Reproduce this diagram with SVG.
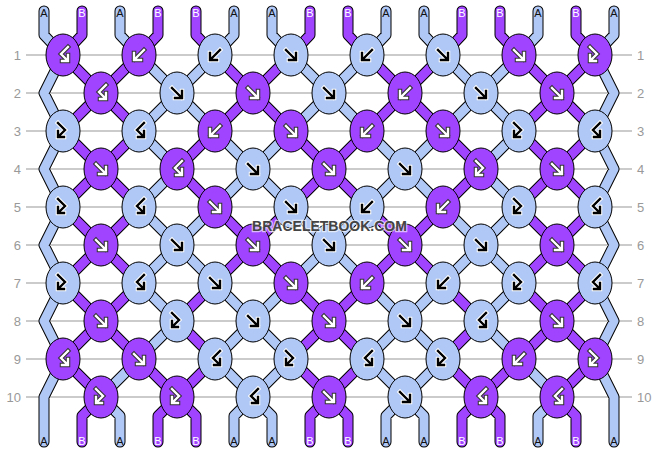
<svg xmlns="http://www.w3.org/2000/svg" width="658" height="452" viewBox="0 0 658 452">
<style>
.ln{stroke:#bbb;stroke-width:1.5}
.rl{font-family:"Liberation Sans",Arial,sans-serif;font-size:13px;fill:#999}
.rr{text-anchor:end}
.ol{fill:none;stroke:#000;stroke-width:11;stroke-linecap:round;stroke-linejoin:round}
.ca{fill:none;stroke:#b0c8f5;stroke-width:9;stroke-linecap:round;stroke-linejoin:round}
.cb{fill:none;stroke:#a044ff;stroke-width:9;stroke-linecap:round;stroke-linejoin:round}
.P{fill:#a044ff;stroke:#000;stroke-width:1}
.L{fill:#b0c8f5;stroke:#000;stroke-width:1}
.tl{font-family:"Liberation Sans",Arial,sans-serif;font-size:11px;text-anchor:middle}
.ta{fill:#111}
.tb{fill:#fff}
.ow{fill:none;stroke:#fff;stroke-width:4.5;stroke-linecap:square}
.od{fill:none;stroke:#333;stroke-width:4.5;stroke-linecap:square}
.mk{fill:none;stroke:#000;stroke-width:2.4;stroke-linecap:square}
.mw{fill:none;stroke:#fff;stroke-width:2.4;stroke-linecap:square}
.wm{font-family:"Liberation Sans",Arial,sans-serif;font-size:14px;font-weight:bold;text-anchor:middle;fill:#444;stroke:#fff;stroke-opacity:0.65;stroke-width:2.5;paint-order:stroke}
</style>
<defs>
<path id="gF" d="M-5,-5L4.5,4.5M-2,5H5V-2"/>
<path id="gB" d="M5,-5L-4.5,4.5M2,5H-5V-2"/>
<path id="gFB" d="M-5,-8L2,-1L-4,5M-5,0V6H1"/>
<path id="gBF" d="M5,-8L-2,-1L4,5M5,0V6H-1"/>
<g id="Fk"><use href="#gF" class="ow"/><use href="#gF" class="mk"/></g>
<g id="Bk"><use href="#gB" class="ow"/><use href="#gB" class="mk"/></g>
<g id="FBk"><use href="#gFB" class="ow"/><use href="#gFB" class="mk"/></g>
<g id="BFk"><use href="#gBF" class="ow"/><use href="#gBF" class="mk"/></g>
<g id="Fw"><use href="#gF" class="od"/><use href="#gF" class="mw"/></g>
<g id="Bw"><use href="#gB" class="od"/><use href="#gB" class="mw"/></g>
<g id="FBw"><use href="#gFB" class="od"/><use href="#gFB" class="mw"/></g>
<g id="BFw"><use href="#gBF" class="od"/><use href="#gBF" class="mw"/></g>
<path id="pA" d="M44,11V35L63,55 M120,11V35L139,55 M234,11V35L215,55 M272,11V35L291,55 M386,11V35L367,55 M424,11V35L443,55 M538,11V35L519,55 M614,11V35L595,55
M63,55L44,93L63,131 M63,131L44,169L63,207 M63,207L44,245L63,283 M63,283L44,321L63,359 M63,359L44,397V442
M595,55L614,93L595,131 M595,131L614,169L595,207 M595,207L614,245L595,283 M595,283L614,321L595,359 M595,359L614,397V442
M139,55L177,93 M215,55L177,93 M291,55L329,93 M367,55L329,93 M443,55L481,93 M519,55L481,93
M177,93L139,131 M177,93L215,131 M329,93L291,131 M329,93L367,131 M481,93L443,131 M481,93L519,131
M139,131L177,169 M215,131L253,169 M291,131L253,169 M367,131L405,169 M443,131L405,169 M519,131L481,169
M177,169L139,207 M253,169L215,207 M253,169L291,207 M405,169L367,207 M405,169L443,207 M481,169L519,207
M139,207L177,245 M215,207L177,245 M291,207L329,245 M367,207L329,245 M443,207L481,245 M519,207L481,245
M177,245L139,283 M177,245L215,283 M329,245L291,283 M329,245L367,283 M481,245L443,283 M481,245L519,283
M139,283L177,321 M215,283L253,321 M291,283L253,321 M367,283L405,321 M443,283L405,321 M519,283L481,321
M177,321L139,359 M253,321L215,359 M253,321L291,359 M405,321L367,359 M405,321L443,359 M481,321L519,359
M139,359L101,397 M215,359L253,397 M291,359L253,397 M367,359L405,397 M443,359L405,397 M519,359L557,397
M101,397L120,416V442 M253,397L234,416V442 M253,397L272,416V442 M405,397L386,416V442 M405,397L424,416V442 M557,397L538,416V442"/>
<path id="pB" d="M82,11V35L63,55 M158,11V35L139,55 M196,11V35L215,55 M310,11V35L291,55 M348,11V35L367,55 M462,11V35L443,55 M500,11V35L519,55 M576,11V35L595,55
M63,55L101,93 M139,55L101,93 M215,55L253,93 M291,55L253,93 M367,55L405,93 M443,55L405,93 M519,55L557,93 M595,55L557,93
M101,93L63,131 M101,93L139,131 M253,93L215,131 M253,93L291,131 M405,93L367,131 M405,93L443,131 M557,93L519,131 M557,93L595,131
M63,131L101,169 M139,131L101,169 M215,131L177,169 M291,131L329,169 M367,131L329,169 M443,131L481,169 M519,131L557,169 M595,131L557,169
M101,169L63,207 M101,169L139,207 M177,169L215,207 M329,169L291,207 M329,169L367,207 M481,169L443,207 M557,169L519,207 M557,169L595,207
M63,207L101,245 M139,207L101,245 M215,207L253,245 M291,207L253,245 M367,207L405,245 M443,207L405,245 M519,207L557,245 M595,207L557,245
M101,245L63,283 M101,245L139,283 M253,245L215,283 M253,245L291,283 M405,245L367,283 M405,245L443,283 M557,245L519,283 M557,245L595,283
M63,283L101,321 M139,283L101,321 M215,283L177,321 M291,283L329,321 M367,283L329,321 M443,283L481,321 M519,283L557,321 M595,283L557,321
M101,321L63,359 M101,321L139,359 M177,321L215,359 M329,321L291,359 M329,321L367,359 M481,321L443,359 M557,321L519,359 M557,321L595,359
M63,359L101,397 M139,359L177,397 M215,359L177,397 M291,359L329,397 M367,359L329,397 M443,359L481,397 M519,359L481,397 M595,359L557,397
M101,397L82,416V442 M177,397L158,416V442 M177,397L196,416V442 M329,397L310,416V442 M329,397L348,416V442 M481,397L462,416V442 M481,397L500,416V442 M557,397L576,416V442"/>
</defs>
<rect width="658" height="452" fill="#fff"/>
<g id="rows">
<path class="ln" d="M26,55H632M26,93H632M26,131H632M26,169H632M26,207H632M26,245H632M26,283H632M26,321H632M26,359H632M26,397H632"/>
<text class="rl rr" x="21" y="59.5">1</text><text class="rl rr" x="21" y="97.5">2</text><text class="rl rr" x="21" y="135.5">3</text><text class="rl rr" x="21" y="173.5">4</text><text class="rl rr" x="21" y="211.5">5</text><text class="rl rr" x="21" y="249.5">6</text><text class="rl rr" x="21" y="287.5">7</text><text class="rl rr" x="21" y="325.5">8</text><text class="rl rr" x="21" y="363.5">9</text><text class="rl rr" x="21" y="401.5">10</text>
<text class="rl" x="637" y="59.5">1</text><text class="rl" x="637" y="97.5">2</text><text class="rl" x="637" y="135.5">3</text><text class="rl" x="637" y="173.5">4</text><text class="rl" x="637" y="211.5">5</text><text class="rl" x="637" y="249.5">6</text><text class="rl" x="637" y="287.5">7</text><text class="rl" x="637" y="325.5">8</text><text class="rl" x="637" y="363.5">9</text><text class="rl" x="637" y="401.5">10</text>
</g>
<g id="connectors">
<use href="#pA" class="ol"/><use href="#pB" class="ol"/>
<use href="#pA" class="ca"/><use href="#pB" class="cb"/>
</g>
<g id="string-labels">
<text class="tl ta" x="44" y="17">A</text><text class="tl tb" x="82" y="17">B</text><text class="tl ta" x="120" y="17">A</text><text class="tl tb" x="158" y="17">B</text><text class="tl tb" x="196" y="17">B</text><text class="tl ta" x="234" y="17">A</text><text class="tl ta" x="272" y="17">A</text><text class="tl tb" x="310" y="17">B</text><text class="tl tb" x="348" y="17">B</text><text class="tl ta" x="386" y="17">A</text><text class="tl ta" x="424" y="17">A</text><text class="tl tb" x="462" y="17">B</text><text class="tl tb" x="500" y="17">B</text><text class="tl ta" x="538" y="17">A</text><text class="tl tb" x="576" y="17">B</text><text class="tl ta" x="614" y="17">A</text>
<text class="tl ta" x="44" y="445">A</text><text class="tl tb" x="82" y="445">B</text><text class="tl ta" x="120" y="445">A</text><text class="tl tb" x="158" y="445">B</text><text class="tl tb" x="196" y="445">B</text><text class="tl ta" x="234" y="445">A</text><text class="tl ta" x="272" y="445">A</text><text class="tl tb" x="310" y="445">B</text><text class="tl tb" x="348" y="445">B</text><text class="tl ta" x="386" y="445">A</text><text class="tl ta" x="424" y="445">A</text><text class="tl tb" x="462" y="445">B</text><text class="tl tb" x="500" y="445">B</text><text class="tl ta" x="538" y="445">A</text><text class="tl tb" x="576" y="445">B</text><text class="tl ta" x="614" y="445">A</text>
</g>
<g id="knots">
<g id="k1_1" transform="translate(63 55)"><ellipse class="P" rx="17" ry="21"/><use href="#BFw"/></g>
<g id="k1_2" transform="translate(139 55)"><ellipse class="P" rx="17" ry="21"/><use href="#Bw"/></g>
<g id="k1_3" transform="translate(215 55)"><ellipse class="L" rx="17" ry="21"/><use href="#Bk"/></g>
<g id="k1_4" transform="translate(291 55)"><ellipse class="L" rx="17" ry="21"/><use href="#Fk"/></g>
<g id="k1_5" transform="translate(367 55)"><ellipse class="L" rx="17" ry="21"/><use href="#Bk"/></g>
<g id="k1_6" transform="translate(443 55)"><ellipse class="L" rx="17" ry="21"/><use href="#Fk"/></g>
<g id="k1_7" transform="translate(519 55)"><ellipse class="P" rx="17" ry="21"/><use href="#Fw"/></g>
<g id="k1_8" transform="translate(595 55)"><ellipse class="P" rx="17" ry="21"/><use href="#FBw"/></g>
<g id="k2_1" transform="translate(101 93)"><ellipse class="P" rx="17" ry="21"/><use href="#BFw"/></g>
<g id="k2_2" transform="translate(177 93)"><ellipse class="L" rx="17" ry="21"/><use href="#Fk"/></g>
<g id="k2_3" transform="translate(253 93)"><ellipse class="P" rx="17" ry="21"/><use href="#Fw"/></g>
<g id="k2_4" transform="translate(329 93)"><ellipse class="L" rx="17" ry="21"/><use href="#Fk"/></g>
<g id="k2_5" transform="translate(405 93)"><ellipse class="P" rx="17" ry="21"/><use href="#Bw"/></g>
<g id="k2_6" transform="translate(481 93)"><ellipse class="L" rx="17" ry="21"/><use href="#Fk"/></g>
<g id="k2_7" transform="translate(557 93)"><ellipse class="P" rx="17" ry="21"/><use href="#Fw"/></g>
<g id="k3_1" transform="translate(63 131)"><ellipse class="L" rx="17" ry="21"/><use href="#FBk"/></g>
<g id="k3_2" transform="translate(139 131)"><ellipse class="L" rx="17" ry="21"/><use href="#BFk"/></g>
<g id="k3_3" transform="translate(215 131)"><ellipse class="P" rx="17" ry="21"/><use href="#Bw"/></g>
<g id="k3_4" transform="translate(291 131)"><ellipse class="P" rx="17" ry="21"/><use href="#Fw"/></g>
<g id="k3_5" transform="translate(367 131)"><ellipse class="P" rx="17" ry="21"/><use href="#Bw"/></g>
<g id="k3_6" transform="translate(443 131)"><ellipse class="P" rx="17" ry="21"/><use href="#Fw"/></g>
<g id="k3_7" transform="translate(519 131)"><ellipse class="L" rx="17" ry="21"/><use href="#FBk"/></g>
<g id="k3_8" transform="translate(595 131)"><ellipse class="L" rx="17" ry="21"/><use href="#BFk"/></g>
<g id="k4_1" transform="translate(101 169)"><ellipse class="P" rx="17" ry="21"/><use href="#Fw"/></g>
<g id="k4_2" transform="translate(177 169)"><ellipse class="P" rx="17" ry="21"/><use href="#BFw"/></g>
<g id="k4_3" transform="translate(253 169)"><ellipse class="L" rx="17" ry="21"/><use href="#Fk"/></g>
<g id="k4_4" transform="translate(329 169)"><ellipse class="P" rx="17" ry="21"/><use href="#Fw"/></g>
<g id="k4_5" transform="translate(405 169)"><ellipse class="L" rx="17" ry="21"/><use href="#Fk"/></g>
<g id="k4_6" transform="translate(481 169)"><ellipse class="P" rx="17" ry="21"/><use href="#FBw"/></g>
<g id="k4_7" transform="translate(557 169)"><ellipse class="P" rx="17" ry="21"/><use href="#Fw"/></g>
<g id="k5_1" transform="translate(63 207)"><ellipse class="L" rx="17" ry="21"/><use href="#FBk"/></g>
<g id="k5_2" transform="translate(139 207)"><ellipse class="L" rx="17" ry="21"/><use href="#BFk"/></g>
<g id="k5_3" transform="translate(215 207)"><ellipse class="P" rx="17" ry="21"/><use href="#Fw"/></g>
<g id="k5_4" transform="translate(291 207)"><ellipse class="L" rx="17" ry="21"/><use href="#Fk"/></g>
<g id="k5_5" transform="translate(367 207)"><ellipse class="L" rx="17" ry="21"/><use href="#Bk"/></g>
<g id="k5_6" transform="translate(443 207)"><ellipse class="P" rx="17" ry="21"/><use href="#Bw"/></g>
<g id="k5_7" transform="translate(519 207)"><ellipse class="L" rx="17" ry="21"/><use href="#FBk"/></g>
<g id="k5_8" transform="translate(595 207)"><ellipse class="L" rx="17" ry="21"/><use href="#BFk"/></g>
<g id="k6_1" transform="translate(101 245)"><ellipse class="P" rx="17" ry="21"/><use href="#Fw"/></g>
<g id="k6_2" transform="translate(177 245)"><ellipse class="L" rx="17" ry="21"/><use href="#Fk"/></g>
<g id="k6_3" transform="translate(253 245)"><ellipse class="P" rx="17" ry="21"/><use href="#Fw"/></g>
<g id="k6_4" transform="translate(329 245)"><ellipse class="L" rx="17" ry="21"/><use href="#Fk"/></g>
<g id="k6_5" transform="translate(405 245)"><ellipse class="P" rx="17" ry="21"/><use href="#Fw"/></g>
<g id="k6_6" transform="translate(481 245)"><ellipse class="L" rx="17" ry="21"/><use href="#Fk"/></g>
<g id="k6_7" transform="translate(557 245)"><ellipse class="P" rx="17" ry="21"/><use href="#Fw"/></g>
<g id="k7_1" transform="translate(63 283)"><ellipse class="L" rx="17" ry="21"/><use href="#FBk"/></g>
<g id="k7_2" transform="translate(139 283)"><ellipse class="L" rx="17" ry="21"/><use href="#BFk"/></g>
<g id="k7_3" transform="translate(215 283)"><ellipse class="L" rx="17" ry="21"/><use href="#Fk"/></g>
<g id="k7_4" transform="translate(291 283)"><ellipse class="P" rx="17" ry="21"/><use href="#Fw"/></g>
<g id="k7_5" transform="translate(367 283)"><ellipse class="P" rx="17" ry="21"/><use href="#Bw"/></g>
<g id="k7_6" transform="translate(443 283)"><ellipse class="L" rx="17" ry="21"/><use href="#Bk"/></g>
<g id="k7_7" transform="translate(519 283)"><ellipse class="L" rx="17" ry="21"/><use href="#FBk"/></g>
<g id="k7_8" transform="translate(595 283)"><ellipse class="L" rx="17" ry="21"/><use href="#BFk"/></g>
<g id="k8_1" transform="translate(101 321)"><ellipse class="P" rx="17" ry="21"/><use href="#Fw"/></g>
<g id="k8_2" transform="translate(177 321)"><ellipse class="L" rx="17" ry="21"/><use href="#FBk"/></g>
<g id="k8_3" transform="translate(253 321)"><ellipse class="L" rx="17" ry="21"/><use href="#Fk"/></g>
<g id="k8_4" transform="translate(329 321)"><ellipse class="P" rx="17" ry="21"/><use href="#Fw"/></g>
<g id="k8_5" transform="translate(405 321)"><ellipse class="L" rx="17" ry="21"/><use href="#Fk"/></g>
<g id="k8_6" transform="translate(481 321)"><ellipse class="L" rx="17" ry="21"/><use href="#BFk"/></g>
<g id="k8_7" transform="translate(557 321)"><ellipse class="P" rx="17" ry="21"/><use href="#Fw"/></g>
<g id="k9_1" transform="translate(63 359)"><ellipse class="P" rx="17" ry="21"/><use href="#BFw"/></g>
<g id="k9_2" transform="translate(139 359)"><ellipse class="P" rx="17" ry="21"/><use href="#Fw"/></g>
<g id="k9_3" transform="translate(215 359)"><ellipse class="L" rx="17" ry="21"/><use href="#BFk"/></g>
<g id="k9_4" transform="translate(291 359)"><ellipse class="L" rx="17" ry="21"/><use href="#FBk"/></g>
<g id="k9_5" transform="translate(367 359)"><ellipse class="L" rx="17" ry="21"/><use href="#BFk"/></g>
<g id="k9_6" transform="translate(443 359)"><ellipse class="L" rx="17" ry="21"/><use href="#FBk"/></g>
<g id="k9_7" transform="translate(519 359)"><ellipse class="P" rx="17" ry="21"/><use href="#Bw"/></g>
<g id="k9_8" transform="translate(595 359)"><ellipse class="P" rx="17" ry="21"/><use href="#FBw"/></g>
<g id="k10_1" transform="translate(101 397)"><ellipse class="P" rx="17" ry="21"/><use href="#FBw"/></g>
<g id="k10_2" transform="translate(177 397)"><ellipse class="P" rx="17" ry="21"/><use href="#FBw"/></g>
<g id="k10_3" transform="translate(253 397)"><ellipse class="L" rx="17" ry="21"/><use href="#BFk"/></g>
<g id="k10_4" transform="translate(329 397)"><ellipse class="P" rx="17" ry="21"/><use href="#Fw"/></g>
<g id="k10_5" transform="translate(405 397)"><ellipse class="L" rx="17" ry="21"/><use href="#Fk"/></g>
<g id="k10_6" transform="translate(481 397)"><ellipse class="P" rx="17" ry="21"/><use href="#BFw"/></g>
<g id="k10_7" transform="translate(557 397)"><ellipse class="P" rx="17" ry="21"/><use href="#BFw"/></g>
</g>
<text class="wm" x="329.5" y="231">BRACELETBOOK.COM</text>
</svg>
